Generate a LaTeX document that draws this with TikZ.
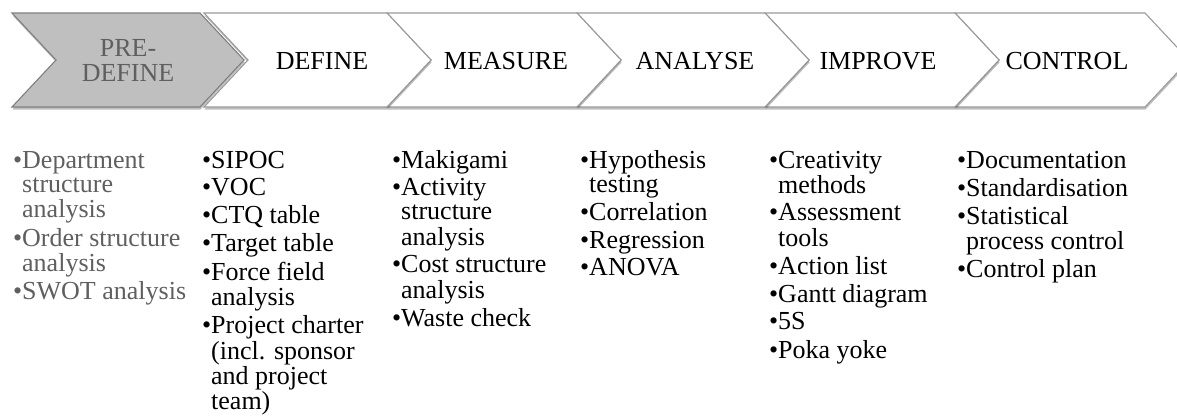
\documentclass[tikz,border=0pt]{standalone}
\usepackage{fontspec}
\setmainfont{Liberation Serif}
\usetikzlibrary{shadows}

\definecolor{chevfill}{HTML}{BFBFBF}
\definecolor{chevline}{HTML}{7F7F7F}
\definecolor{plainline}{HTML}{9A9A9A}
\definecolor{mutedtext}{HTML}{5F5F5F}

% bullet cell of a tool list
\newcommand\bul{\textbullet}
% vertical gap between two list items
\newcommand\itemgap{\\[2.8pt]}

\tikzset{
  chevshape/.style={line width=1.1pt, line join=miter,
    drop shadow={shadow xshift=0.5pt, shadow yshift=-2.5pt, opacity=0.25, fill=black}},
  activechev/.style={chevshape, fill=chevfill, draw=chevline},
  plainchev/.style={chevshape, fill=white, draw=plainline},
  phase/.style={font=\fontsize{26}{25}\selectfont, inner sep=0pt, anchor=base},
  toollist/.style={font=\fontsize{26}{24.5}\selectfont, inner sep=0pt, anchor=base west},
}

% chevron: top-left x, top width, style
\newcommand\chevron[3]{%
  \path[#3] (#1,13) -- ++(#2,0) -- ++(44,47) -- ++(-44,47) -- ++(-#2,0) -- ++(44,-47) -- cycle;}

\begin{document}
\begin{tikzpicture}[x=1pt, y=-1pt]
\useasboundingbox (0,0) rectangle (1177,415);
\begin{scope}
\clip (0,0) rectangle (1177,415);
\chevron{955}{190}{plainchev}
\chevron{765}{190}{plainchev}
\chevron{577}{188}{plainchev}
\chevron{387}{190}{plainchev}
\chevron{204}{183}{plainchev}
\chevron{12}{188}{activechev}
\end{scope}

% phase titles
\node[phase, text=mutedtext, align=center] (predefine) at (128,81) {PRE-\\DEFINE};
\node[phase] (define)  at (322,69) {DEFINE};
\node[phase] (measure) at (506,69) {MEASURE};
\node[phase] (analyse) at (695,69) {ANALYSE};
\node[phase] (improve) at (878,69) {IMPROVE};
\node[phase] (control) at (1067,69) {CONTROL};

% tools per phase
\node[toollist, text=mutedtext] (predefinetools) at (13,168) {%
\begin{tabular}[t]{@{}p{9pt}@{}l@{}}
\bul & Department\\ & structure\\ & analysis\itemgap
\bul & Order structure\\ & analysis\itemgap
\bul & SWOT analysis
\end{tabular}};
\node[toollist] (definetools) at (202,168) {%
\begin{tabular}[t]{@{}p{9pt}@{}l@{}}
\bul & SIPOC\itemgap
\bul & VOC\itemgap
\bul & CTQ table\itemgap
\bul & Target table\itemgap
\bul & Force field\\ & analysis\itemgap
\bul & Project charter\\ & (incl. sponsor\\ & and project\\ & team)
\end{tabular}};
\node[toollist] (measuretools) at (392,168) {%
\begin{tabular}[t]{@{}p{9pt}@{}l@{}}
\bul & Makigami\itemgap
\bul & Activity\\ & structure\\ & analysis\itemgap
\bul & Cost structure\\ & analysis\itemgap
\bul & Waste check
\end{tabular}};
\node[toollist] (analysetools) at (580,168) {%
\begin{tabular}[t]{@{}p{9pt}@{}l@{}}
\bul & Hypothesis\\ & testing\itemgap
\bul & Correlation\itemgap
\bul & Regression\itemgap
\bul & ANOVA
\end{tabular}};
\node[toollist] (improvetools) at (769,168) {%
\begin{tabular}[t]{@{}p{9pt}@{}l@{}}
\bul & Creativity\\ & methods\itemgap
\bul & Assessment\\ & tools\itemgap
\bul & Action list\itemgap
\bul & Gantt diagram\itemgap
\bul & 5S\itemgap
\bul & Poka yoke
\end{tabular}};
\node[toollist] (controltools) at (957,168) {%
\begin{tabular}[t]{@{}p{9pt}@{}l@{}}
\bul & Documentation\itemgap
\bul & Standardisation\itemgap
\bul & Statistical\\ & process control\itemgap
\bul & Control plan
\end{tabular}};
\end{tikzpicture}
\end{document}
